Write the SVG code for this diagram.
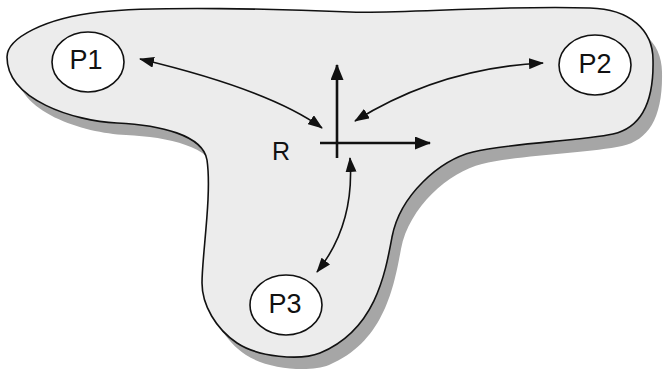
<svg xmlns="http://www.w3.org/2000/svg" width="663" height="379" viewBox="0 0 663 379">
<style>
.blob{stroke:#111;stroke-width:1.6;fill:#ececec}
.shadow{fill:#a6a6a6;stroke:none}
.node ellipse{fill:#fff;stroke:#111;stroke-width:1.6}
.lbl{font-family:"Liberation Sans",Arial,sans-serif;font-size:27px;fill:#111;text-anchor:middle}
.conn{fill:none;stroke:#111;stroke-width:1.6}
.axis{fill:none;stroke:#111;stroke-width:2.6}
</style>
<defs>
<path id="outline" d="M7,57 C7,38 45,18 100,12 C155,6 280,9 350,12 C400,14 500,5 590,8 C630,9 653,30 653,60 C654,105 640,128 613,134 C581,141 510,143 473,152 C440,160 400,195 392,237 C385,275 375,330 320,353 C300,361 258,357 237,343 C216,329 202,305 202,283 C202,255 212,195 207,160 C203,135 160,125 117,123 C74,121 7,100 7,57 Z"/>
<marker id="ah" viewBox="0 0 15 11" refX="14" refY="5.5" markerWidth="15" markerHeight="11" markerUnits="userSpaceOnUse" orient="auto-start-reverse">
<path d="M0,0 L15,5.5 L0,11 Z" fill="#111"/>
</marker>
<marker id="ax" viewBox="0 0 16 13" refX="15" refY="6.5" markerWidth="16" markerHeight="13" markerUnits="userSpaceOnUse" orient="auto">
<path d="M0,0 L16,6.5 L0,13 Z" fill="#111"/>
</marker>
</defs>
<g id="region">
<use href="#outline" class="shadow" transform="translate(9,12)"/>
<use href="#outline" class="blob"/>
</g>
<g id="connectors">
<path class="conn" d="M140,59 Q270,90 322,128" marker-start="url(#ah)" marker-end="url(#ah)"/>
<path class="conn" d="M355,121 Q440,68 543,63" marker-start="url(#ah)" marker-end="url(#ah)"/>
<path class="conn" d="M350,158 Q355,225 317,272" marker-start="url(#ah)" marker-end="url(#ah)"/>
<path class="axis" d="M337,158 L337,65" marker-end="url(#ax)"/>
<path class="axis" d="M320,143 L430,143" marker-end="url(#ax)"/>
</g>
<g id="P1" class="node">
<ellipse cx="88" cy="62" rx="36" ry="30"/>
<text class="lbl" x="86" y="69">P1</text>
</g>
<g id="P2" class="node">
<ellipse cx="595" cy="65" rx="36" ry="30"/>
<text class="lbl" x="595" y="73">P2</text>
</g>
<g id="P3" class="node">
<ellipse cx="286" cy="305" rx="36" ry="30"/>
<text class="lbl" x="285" y="313">P3</text>
</g>
<g id="R">
<text class="lbl" x="281" y="160" style="font-size:25px">R</text>
</g>
</svg>
